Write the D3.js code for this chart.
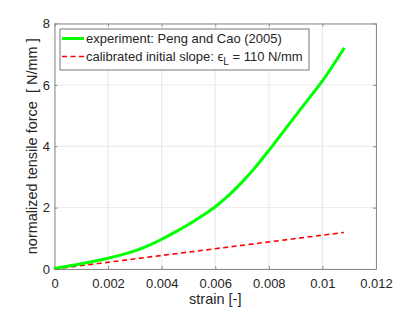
<!DOCTYPE html>
<html>
<head>
<meta charset="utf-8">
<script src="https://cdn.jsdelivr.net/npm/d3@7"></script>
<style>
body { margin: 0; background: #fff; }
text { font-family: "Liberation Sans", Arial, sans-serif; fill: #262626; }
</style>
</head>
<body>
<script>
// experiment curve (Peng and Cao 2005)
var expStrain = [0, 0.001, 0.002, 0.0025, 0.003, 0.0035, 0.004, 0.0045, 0.005, 0.0055, 0.006, 0.0065, 0.007, 0.0075, 0.008, 0.0085, 0.009, 0.0095, 0.01, 0.01082];
var expForce  = [0.02, 0.17, 0.35, 0.46, 0.59, 0.76, 0.97, 1.2, 1.45, 1.73, 2.03, 2.4, 2.83, 3.32, 3.86, 4.43, 5.0, 5.56, 6.13, 7.21];
// calibrated initial slope line
var fitStrain = [0, 0.0108];
var fitForce  = [0, 1.19];
var xTicks = [0, 0.002, 0.004, 0.006, 0.008, 0.01, 0.012];
var yTicks = [0, 2, 4, 6, 8];

var svgWidth = 415, svgHeight = 311;
var margin = {top: 23.5, right: 39, bottom: 42, left: 54.5};
var width = svgWidth - margin.left - margin.right;
var height = svgHeight - margin.top - margin.bottom;

var svg = d3.select("body").append("svg").attr("width", svgWidth).attr("height", svgHeight);
var chart = svg.append("g").attr("transform", `translate(${margin.left}, ${margin.top})`);

var x = d3.scaleLinear().domain([0, 0.012]).range([0, width]);
var y = d3.scaleLinear().domain([0, 8]).range([height, 0]);

// grid
chart.selectAll(".gx").data(xTicks).enter().append("line")
  .attr("x1", d => x(d)).attr("x2", d => x(d)).attr("y1", 0).attr("y2", height)
  .attr("stroke", "#e3e3e3").attr("stroke-width", 0.8);
chart.selectAll(".gy").data(yTicks).enter().append("line")
  .attr("y1", d => y(d)).attr("y2", d => y(d)).attr("x1", 0).attr("x2", width)
  .attr("stroke", "#e3e3e3").attr("stroke-width", 0.8);

// axes (ticks inside, box on)
function styleAxis(g) {
  g.select(".domain").attr("stroke", "#8a8a8a");
  g.selectAll(".tick line").attr("stroke", "#8a8a8a");
  g.selectAll(".tick text").attr("font-size", "13px").attr("fill", "#262626")
    .attr("font-family", "Liberation Sans, Arial, sans-serif");
}
var fmt = d => d3.format("")(+d.toFixed(3));
chart.append("g").attr("transform", `translate(0, ${height})`)
  .call(d3.axisBottom(x).tickValues(xTicks).tickFormat(fmt).tickSizeInner(-3).tickSizeOuter(0).tickPadding(9.5))
  .call(styleAxis);
chart.append("g")
  .call(d3.axisTop(x).tickValues(xTicks).tickFormat("").tickSizeInner(-3).tickSizeOuter(0))
  .call(styleAxis);
chart.append("g")
  .call(d3.axisLeft(y).tickValues(yTicks).tickSizeInner(-3).tickSizeOuter(0).tickPadding(4.5))
  .call(styleAxis);
chart.append("g").attr("transform", `translate(${width}, 0)`)
  .call(d3.axisRight(y).tickValues(yTicks).tickFormat("").tickSizeInner(-3).tickSizeOuter(0))
  .call(styleAxis);

// lines
var line = d3.line().x(d => x(d[0])).y(d => y(d[1]));
chart.append("path").datum(d3.zip(fitStrain, fitForce)).attr("d", line)
  .attr("fill", "none").attr("stroke", "#ff0000").attr("stroke-width", 1.6).attr("stroke-dasharray", "5,3.5");
chart.append("path").datum(d3.zip(expStrain, expForce)).attr("d", line.curve(d3.curveMonotoneX))
  .attr("fill", "none").attr("stroke", "#00ff00").attr("stroke-width", 3).attr("stroke-linejoin", "round");

// axis labels
svg.append("text").attr("x", margin.left + width / 2).attr("y", 304)
  .attr("text-anchor", "middle").attr("font-size", "14.5px").text("strain [-]");
svg.append("text").attr("transform", `translate(37, ${margin.top + height / 2}) rotate(-90)`)
  .attr("text-anchor", "middle").attr("font-size", "14.5px").attr("xml:space", "preserve")
  .style("white-space", "pre").text("normalized tensile force  [ N/mm ]");

// legend
var lg = svg.append("g").attr("transform", "translate(60, 29)");
lg.append("rect").attr("width", 249).attr("height", 41).attr("fill", "#fff")
  .attr("stroke", "#555").attr("stroke-width", 0.8);
lg.append("line").attr("x1", 2).attr("x2", 24).attr("y1", 9.5).attr("y2", 9.5)
  .attr("stroke", "#00ff00").attr("stroke-width", 3);
lg.append("line").attr("x1", 2).attr("x2", 24).attr("y1", 27.5).attr("y2", 27.5)
  .attr("stroke", "#ff0000").attr("stroke-width", 1.6).attr("stroke-dasharray", "5,3.5");
lg.append("text").attr("x", 26).attr("y", 14).attr("font-size", "13px").text("experiment: Peng and Cao (2005)");
var t2 = lg.append("text").attr("x", 26).attr("y", 32).attr("font-size", "13px");
t2.append("tspan").text("calibrated initial slope: ϵ");
t2.append("tspan").attr("dy", 4).attr("font-size", "10px").text("L");
t2.append("tspan").attr("dy", -4).text(" = 110 N/mm");
</script>
</body>
</html>
